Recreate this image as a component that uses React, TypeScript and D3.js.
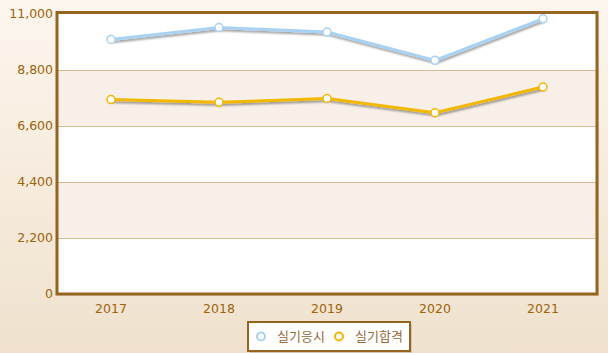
import React, { useEffect, useRef } from "react";
import * as d3 from "d3";

const years = ["2017", "2018", "2019", "2020", "2021"];
const applied = [10000, 10470, 10290, 9180, 10810]; // 실기응시
const passed = [7640, 7530, 7680, 7120, 8130]; // 실기합격
const yTicks = [0, 2200, 4400, 6600, 8800, 11000];
const seriesNames = ["실기응시", "실기합격"];
const seriesColors = ["#a9d1f2", "#f2b705"];

const width = 608;
const height = 353;

const App: React.FC = () => {
  const ref = useRef<SVGSVGElement | null>(null);

  useEffect(() => {
    if (!ref.current) return;
    const svg = d3.select(ref.current);
    svg.selectAll("*").remove();

    const margin = { top: 14, right: 11, bottom: 59, left: 57 };
    const w = width - margin.left - margin.right;
    const h = height - margin.top - margin.bottom;

    // background gradient
    const defs = svg.append("defs");
    const grad = defs
      .append("linearGradient")
      .attr("id", "bg")
      .attr("x1", 0)
      .attr("y1", 0)
      .attr("x2", 0)
      .attr("y2", 1);
    grad.append("stop").attr("offset", "0%").attr("stop-color", "#fdf6ee");
    grad.append("stop").attr("offset", "100%").attr("stop-color", "#efe1cd");

    const shadow = defs.append("filter").attr("id", "shadow").attr("x", "-10%").attr("y", "-10%").attr("width", "130%").attr("height", "130%");
    shadow
      .append("feDropShadow")
      .attr("dx", 1)
      .attr("dy", 2)
      .attr("stdDeviation", 1)
      .attr("flood-color", "#000")
      .attr("flood-opacity", 0.4);

    svg.append("rect").attr("width", width).attr("height", height).attr("fill", "url(#bg)");

    const x = d3.scalePoint().domain(years).range([0, w]).padding(0.5);
    const y = d3.scaleLinear().domain([0, 11000]).range([h, 0]);

    const g = svg.append("g").attr("transform", `translate(${margin.left},${margin.top})`);

    // plot shadow + white fill
    g.append("rect")
      .attr("x", 2)
      .attr("y", 1)
      .attr("width", w)
      .attr("height", h + 1)
      .attr("fill", "#000")
      .attr("opacity", 0.08);
    g.append("rect").attr("y", -1.5).attr("width", w).attr("height", h + 1.5).attr("fill", "#fff");

    // alternating bands
    for (let i = 0; i < yTicks.length - 1; i++) {
      if (i % 2 === 1) {
        g.append("rect")
          .attr("x", 0)
          .attr("y", y(yTicks[i + 1]))
          .attr("width", w)
          .attr("height", y(yTicks[i]) - y(yTicks[i + 1]))
          .attr("fill", "#f8f0e8");
      }
    }

    // gridlines
    g.selectAll(".grid")
      .data(yTicks.slice(1, -1))
      .join("line")
      .attr("x1", 0)
      .attr("x2", w)
      .attr("y1", (d) => y(d) + 0.5)
      .attr("y2", (d) => y(d) + 0.5)
      .attr("stroke", "#d8bb92")
      .attr("stroke-width", 1);

    // y labels
    g.selectAll(".ylab")
      .data(yTicks)
      .join("text")
      .attr("x", -4)
      .attr("y", (d) => y(d))
      .attr("dy", "0.35em")
      .attr("text-anchor", "end")
      .attr("font-family", "Verdana, 'DejaVu Sans', sans-serif")
      .attr("font-size", "12.5px")
      .attr("fill", "#a0620a")
      .text((d) => d3.format(",")(d));

    // x labels
    g.selectAll(".xlab")
      .data(years)
      .join("text")
      .attr("x", (d) => x(d)!)
      .attr("y", h + 19)
      .attr("text-anchor", "middle")
      .attr("font-family", "Verdana, 'DejaVu Sans', sans-serif")
      .attr("font-size", "12.5px")
      .attr("fill", "#a0620a")
      .text((d) => d);

    // lines
    const series = [applied, passed];
    series.forEach((vals, i) => {
      const line = d3
        .line<number>()
        .x((_, j) => x(years[j])!)
        .y((d) => y(d));
      g.append("path")
        .datum(vals)
        .attr("fill", "none")
        .attr("stroke", seriesColors[i])
        .attr("stroke-width", 3)
        .attr("filter", "url(#shadow)")
        .attr("d", line);
      g.selectAll(`.dot-${i}`)
        .data(vals)
        .join("circle")
        .attr("cx", (_, j) => x(years[j])!)
        .attr("cy", (d) => y(d))
        .attr("r", 4)
        .attr("fill", "#fff")
        .attr("stroke", seriesColors[i])
        .attr("stroke-width", 1.5);
    });

    // plot border
    g.append("rect")
      .attr("y", -1.5)
      .attr("width", w)
      .attr("height", h + 1.5)
      .attr("fill", "none")
      .attr("stroke", "#95641e")
      .attr("stroke-width", 3);

    // legend
    const legend = svg.append("g").attr("transform", "translate(248,322)");
    legend
      .append("rect")
      .attr("x", 2)
      .attr("y", 2)
      .attr("width", 162)
      .attr("height", 29)
      .attr("fill", "#000")
      .attr("opacity", 0.12);
    legend
      .append("rect")
      .attr("width", 162)
      .attr("height", 29)
      .attr("fill", "#fff")
      .attr("stroke", "#95641e")
      .attr("stroke-width", 2);
    const itemX = [13, 91];
    seriesNames.forEach((name, i) => {
      legend
        .append("circle")
        .attr("cx", itemX[i])
        .attr("cy", 14.5)
        .attr("r", 4)
        .attr("fill", "#fff")
        .attr("stroke", seriesColors[i])
        .attr("stroke-width", 2);
      legend
        .append("text")
        .attr("x", itemX[i] + 16)
        .attr("y", 14.5)
        .attr("dy", "0.35em")
        .attr("font-family", "'Noto Sans CJK KR', sans-serif")
        .attr("font-size", "13px")
        .attr("fill", "#9a6a3a")
        .text(name);
    });
  }, []);

  return <svg ref={ref} width={width} height={height} style={{ position: "absolute", left: 0, top: 0 }}></svg>;
};

export default App;
